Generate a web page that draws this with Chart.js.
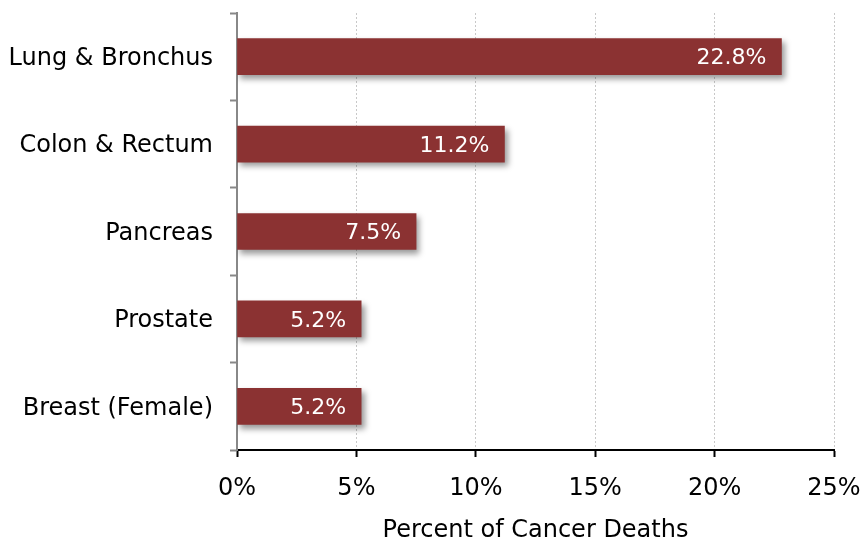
<!DOCTYPE html>
<html>
<head>
<meta charset="utf-8">
<script src="https://cdn.jsdelivr.net/npm/chart.js@4.4.1/dist/chart.umd.min.js"></script>
<style>
  html, body { margin: 0; padding: 0; background: #fff; }
  #wrap { width: 865px; height: 539px; }
</style>
</head>
<body>
<div id="wrap"><canvas id="chart-cancer-deaths"></canvas></div>
<script>
// data
var categories = ['Lung & Bronchus', 'Colon & Rectum', 'Pancreas', 'Prostate', 'Breast (Female)'];
var percentDeaths = [22.8, 11.2, 7.5, 5.2, 5.2];
var xTicks = [0, 5, 10, 15, 20, 25];
var axisTitle = 'Percent of Cancer Deaths';

var fontFamily = '"DejaVu Sans", Verdana, sans-serif';

// drop shadow under the bars
var barShadow = {
  id: 'barShadow',
  beforeDatasetsDraw: function(chart) {
    var ctx = chart.ctx;
    ctx.save();
    ctx.shadowColor = 'rgba(0, 0, 0, 0.4)';
    ctx.shadowBlur = 6;
    ctx.shadowOffsetX = 3;
    ctx.shadowOffsetY = 4;
  },
  afterDatasetsDraw: function(chart) {
    chart.ctx.restore();
  }
};

// white value labels at the bar end
var barLabels = {
  id: 'barLabels',
  afterDraw: function(chart) {
    var ctx = chart.ctx;
    var meta = chart.getDatasetMeta(0);
    ctx.save();
    ctx.fillStyle = '#ffffff';
    ctx.font = '22px ' + fontFamily;
    ctx.textAlign = 'right';
    ctx.textBaseline = 'middle';
    meta.data.forEach(function(bar, i) {
      ctx.fillText(percentDeaths[i].toFixed(1) + '%', bar.x - 15, bar.y + 2);
    });
    ctx.restore();
  }
};

var ctx = document.getElementById('chart-cancer-deaths').getContext('2d');
window.cancerChart = new Chart(ctx, {
  type: 'bar',
  data: {
    labels: categories,
    datasets: [{
      data: percentDeaths,
      backgroundColor: '#8b3232',
      borderWidth: 0,
      barThickness: 36
    }]
  },
  options: {
    indexAxis: 'y',
    responsive: true,
    maintainAspectRatio: false,
    animation: false,
    events: [],
    layout: { padding: { left: 0, right: 31, top: 13, bottom: 0 } },
    scales: {
      x: {
        min: 0,
        max: 25,
        afterBuildTicks: function(scale) {
          scale.ticks = xTicks.map(function(v) { return { value: v }; });
        },
        afterFit: function(scale) {
          scale.height = 89;
          scale.paddingLeft = 0;
          scale.paddingRight = 0;
        },
        ticks: {
          color: '#000',
          padding: 17,
          font: { family: fontFamily, size: 24 },
          callback: function(v) { return v + '%'; }
        },
        grid: {
          color: '#c8c8c8',
          lineWidth: 1,
          tickColor: '#000',
          tickWidth: 2,
          tickLength: 7
        },
        border: { color: '#000', width: 2, dash: [2, 2] },
        title: {
          display: true,
          text: axisTitle,
          color: '#000',
          padding: { top: 10, bottom: -6 },
          font: { family: fontFamily, size: 24 }
        }
      },
      y: {
        afterFit: function(scale) {
          scale.width = 237;
          scale.paddingTop = 0;
          scale.paddingBottom = 0;
        },
        ticks: {
          color: '#000',
          padding: 17,
          labelOffset: 2,
          font: { family: fontFamily, size: 24 }
        },
        grid: {
          offset: true,
          drawOnChartArea: false,
          color: '#888',
          tickColor: '#888',
          tickWidth: 2,
          tickLength: 7
        },
        border: { color: '#888', width: 2 }
      }
    },
    plugins: {
      legend: { display: false },
      tooltip: { enabled: false }
    }
  },
  plugins: [barShadow, barLabels]
});
</script>
</body>
</html>
